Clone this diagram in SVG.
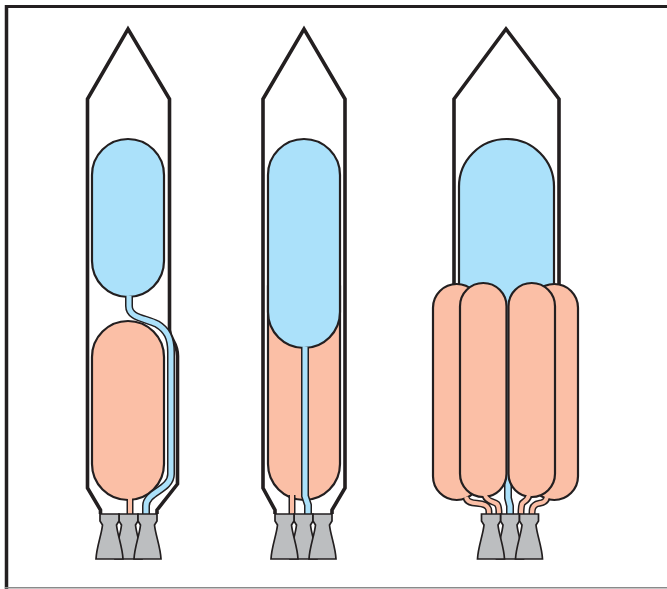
<svg xmlns="http://www.w3.org/2000/svg" xmlns:xlink="http://www.w3.org/1999/xlink" width="667" height="589" viewBox="0 0 667 589">
  <style>
    .hull { fill: none; stroke: #231f20; stroke-width: 3.6; stroke-linejoin: miter; }
    .lox { fill: #abe1fa; stroke: #231f20; stroke-width: 2.2; }
    .fuel { fill: #fbbfa6; stroke: #231f20; stroke-width: 2.2; }
    .line-o { fill: none; stroke: #231f20; stroke-width: 8; stroke-linejoin: round; }
    .line-b { fill: none; stroke: #abe1fa; stroke-width: 5; stroke-linejoin: round; }
    .line-so { fill: none; stroke: #231f20; stroke-width: 7; stroke-linejoin: round; }
    .line-s { fill: none; stroke: #fbbfa6; stroke-width: 4; stroke-linejoin: round; }
    .nozzle { fill: #bcbec0; stroke: #231f20; stroke-width: 1.7; stroke-linejoin: miter; }
    .frame { stroke: #231f20; fill: none; }
  </style>
  <defs>
    <!-- three-engine cluster, centred on x=0, collar top at y=0 -->
    <g id="engines">
      <path class="nozzle" d="M-9.5,0 L9.5,0 L9.5,7 L7,11 C8,21 13,33 13.5,45 L-13.5,45 C-13,33 -8,21 -7,11 L-9.5,7 Z"/>
      <path class="nozzle" d="M-28.5,0 L-9.5,0 L-9.5,7 L-12,11 C-11,21 -6,33 -5.5,45 L-32.5,45 C-32,33 -27,21 -26,11 L-28.5,7 Z"/>
      <path class="nozzle" d="M9.5,0 L28.5,0 L28.5,7 L26,11 C27,21 32,33 32.5,45 L5.5,45 C6,33 11,21 12,11 L9.5,7 Z"/>
    </g>
  </defs>

  <rect width="667" height="589" fill="#ffffff"/>

  <!-- frame -->
  <g id="frame">
    <line class="frame" x1="5" y1="6.5" x2="667" y2="6.5" stroke-width="3"/>
    <line class="frame" x1="6.5" y1="5" x2="6.5" y2="589" stroke-width="3.5"/>
    <line x1="5" y1="587.8" x2="667" y2="587.8" stroke="#8a8a8a" stroke-width="1.5"/>
  </g>

  <!-- rocket 1: stacked tanks, LOX line routed outside the fuel tank -->
  <g id="rocket-tandem-external">
    <path class="hull" d="M100.5,514 L100.5,510 L87.5,488 L87.5,99 L128,29 L169.5,99 L169.5,330 C170,340 177.5,342 177.5,356 L177.5,484 L157,510 L157,514"/>
    <rect class="lox" x="92" y="139" width="72" height="158" rx="36"/>
    <rect class="fuel" x="92" y="321" width="72" height="179" rx="36"/>
    <g id="r1-lines">
      <path class="line-so" d="M130,499 L130,514"/>
      <path class="line-s" d="M130,498 L130,514"/>
      <path class="line-o" d="M129,297 L129,306 C129,318 145,318 157,324 C167,330 171,338 171,352 L171,474 C171,490 146,492 146,506 L146,514"/>
      <path class="line-b" d="M129,296 L129,306 C129,318 145,318 157,324 C167,330 171,338 171,352 L171,474 C171,490 146,492 146,506 L146,514"/>
    </g>
    <use xlink:href="#engines" href="#engines" transform="translate(128.5,514)"/>
  </g>

  <!-- rocket 2: stacked tanks, LOX line through the fuel tank -->
  <g id="rocket-tandem-internal">
    <path class="hull" d="M275,514 L275,510 L263,488 L263,99 L304,29 L345,99 L345,488 L332,510 L332,514"/>
    <rect class="fuel" x="268" y="250" width="72" height="250" rx="36"/>
    <rect class="lox" x="268" y="139" width="72" height="209" rx="36"/>
    <g id="r2-lines">
      <path class="line-so" d="M292,495 L292,514"/>
      <path class="line-s" d="M292,494 L292,514"/>
      <path class="line-o" d="M305,348 L305,496 L308,505 L308,514"/>
      <path class="line-b" d="M305,347 L305,496 L308,505 L308,514"/>
    </g>
    <use xlink:href="#engines" href="#engines" transform="translate(303.5,514)"/>
  </g>

  <!-- rocket 3: central LOX tank with four strap-on fuel tanks -->
  <g id="rocket-parallel">
    <path class="hull" d="M454,310 L454,99 L506,29 L559,99 L559,310"/>
    <rect class="lox" x="459" y="139" width="95" height="230" rx="47.5"/>
    <path class="line-o" d="M508,330 L508,498 L510,506 L510,514" stroke-width="7"/>
    <path class="line-b" d="M508,330 L508,498 L510,506 L510,514" stroke-width="4.5"/>
    <rect id="booster-outer-left" class="fuel" x="433" y="284" width="47.5" height="216" rx="23.75"/>
    <rect id="booster-outer-right" class="fuel" x="530.5" y="284" width="47.5" height="216" rx="23.75"/>
    <rect id="booster-inner-left" class="fuel" x="460" y="283" width="46.5" height="214" rx="23.25"/>
    <rect id="booster-inner-right" class="fuel" x="508.5" y="283" width="46.5" height="214" rx="23.25"/>
    <g id="r3-lines">
      <path class="line-so" d="M466,498 C468,505 478,502 485,505 C489,507 489,510 489,514"/>
      <path class="line-s" d="M466,497 C468,505 478,502 485,505 C489,507 489,510 489,514"/>
      <path class="line-so" d="M485,496 C487,502 494,501 497,504 C499,506 499,510 499,514"/>
      <path class="line-s" d="M485,495 C487,502 494,501 497,504 C499,506 499,510 499,514"/>
      <path class="line-so" d="M529,496 C527,502 523,501 522,504 C521,507 521,510 521,514"/>
      <path class="line-s" d="M529,495 C527,502 523,501 522,504 C521,507 521,510 521,514"/>
      <path class="line-so" d="M547,498 C545,505 538,502 535,505 C532,507 532,510 532,514"/>
      <path class="line-s" d="M547,497 C545,505 538,502 535,505 C532,507 532,510 532,514"/>
    </g>
    <use xlink:href="#engines" href="#engines" transform="translate(510,514)"/>
  </g>
</svg>
